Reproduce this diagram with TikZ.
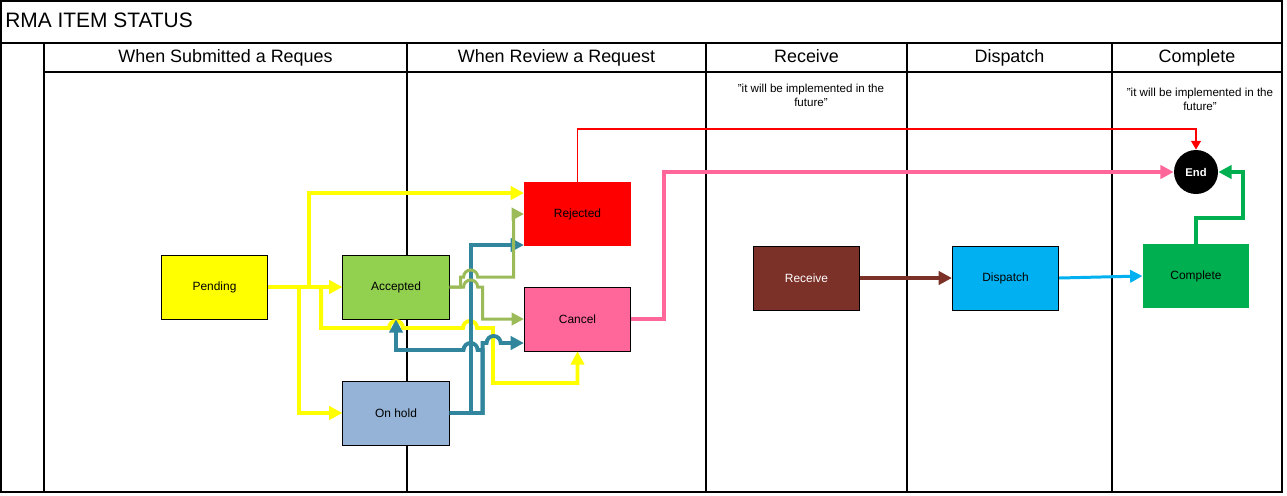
\documentclass[tikz,border=0pt]{standalone}
\usepackage{fontspec}
\setmainfont{Liberation Sans}
\usetikzlibrary{arrows.meta,calc}
\definecolor{pendfill}{HTML}{FFFF00}
\definecolor{accfill}{HTML}{92D050}
\definecolor{holdfill}{HTML}{95B3D7}
\definecolor{rejfill}{HTML}{FF0000}
\definecolor{canfill}{HTML}{FF6699}
\definecolor{recfill}{HTML}{7B3028}
\definecolor{disfill}{HTML}{00B0F0}
\definecolor{comfill}{HTML}{00B050}
\definecolor{tealline}{HTML}{31859C}
\definecolor{oliveline}{HTML}{9BBB59}
\newcommand\qt{\symbol{34}}

\begin{document}
\begin{tikzpicture}[x=0.02cm,y=-0.02cm,
    grid/.style={line width=0.6pt},
    head/.style={anchor=base,font=\fontsize{10.2}{12}\selectfont},
    note/.style={align=center,font=\fontsize{6.6}{7.9}\selectfont},
    box/.style={minimum width=2.13cm,minimum height=1.28cm,inner sep=0pt,
      font=\fontsize{6.8}{8}\selectfont},
    conn/.style={line width=2.2pt,-{Triangle[length=7.5pt,width=7.5pt]}},
    ylw/.style={conn,color=pendfill},
    tl/.style={conn,color=tealline},
    olv/.style={conn,color=oliveline,line width=1.7pt,-{Triangle[length=7pt,width=7pt]}},
    pnk/.style={conn,color=canfill},
    brn/.style={conn,color=recfill},
    blu/.style={conn,color=disfill,line width=1.7pt,-{Triangle[length=7pt,width=7pt]}},
    grn/.style={conn,color=comfill},
    rd/.style={color=rejfill,line width=1.1pt,-{Triangle[length=5pt,width=5.5pt]}}]
    \useasboundingbox (0,0) rectangle (1287,495);

    % swimlane table
    \draw[grid] (1,1) rectangle (1282,492);
    \draw[grid] (1,43) -- (1282,43);
    \draw[grid] (44,72) -- (1282,72);
    \draw[grid] (44,43) -- (44,492);
    \draw[grid] (407,43) -- (407,492);
    \draw[grid] (706,43) -- (706,492);
    \draw[grid] (907,43) -- (907,492);
    \draw[grid] (1112,43) -- (1112,492);

    \node[anchor=base west,font=\fontsize{11.9}{14}\selectfont,inner sep=0pt] (title) at (5,27) {RMA ITEM STATUS};
    \node[head] (hsubmit) at (225.5,62) {When Submitted a Reques};
    \node[head] (hreview) at (556.5,62) {When Review a Request};
    \node[head] (hreceive) at (806.5,62) {Receive};
    \node[head] (hdispatch) at (1009.5,62) {Dispatch};
    \node[head] (hcomplete) at (1197,62) {Complete};

    \node[note] (notereceive) at (811,95) {\qt it will be implemented in the\\future\qt};
    \node[note] (notecomplete) at (1200,99) {\qt it will be implemented in the\\future\qt};

    % states
    \node[box,draw,fill=pendfill] (pending) at (214.5,287) {Pending};
    \node[box,draw,fill=accfill] (accepted) at (396,287) {Accepted};
    \node[box,draw,fill=holdfill] (onhold) at (396,413) {On hold};
    \node[box,fill=rejfill] (rejected) at (577.5,214) {Rejected};
    \node[box,draw,fill=canfill] (cancel) at (577.5,319) {Cancel};
    \node[box,draw,fill=recfill,text=white] (receive) at (806.5,278) {Receive};
    \node[box,draw,fill=disfill] (dispatch) at (1005.5,278) {Dispatch};
    \node[box,fill=comfill] (complete) at (1196,276) {Complete};
    \node[circle,fill=black,text=white,minimum size=0.88cm,inner sep=0pt,
      font=\fontsize{6.4}{8}\selectfont\bfseries] (end) at (1196,172) {End};

    % transitions
    \draw[ylw] (pending.east) -- (accepted.west);
    \draw[ylw] (pending.east) -- ++(41,0) |- ($(rejected.west)+(0,-21)$);
    \draw[ylw] (pending.east) -- ++(31,0) |- (onhold.west);
    \draw[ylw] (pending.east) -- ++(53,0) -- ++(0,41) -- (389,328)
      arc[start angle=180,end angle=0,radius=4pt] -- (463,328)
      arc[start angle=180,end angle=0,radius=4pt] -- (493,328) -- (493,383) -| (cancel.south);

    \draw[tl] (onhold.east) -- ++(21,0) |- ($(rejected.west)+(0,31)$);
    \draw[tl] (onhold.east) -- ++(33,0) -- ++(0,-70) -- ++(4,0)
      arc[start angle=180,end angle=0,radius=4pt] -- ($(cancel.west)+(0,24)$);
    \draw[tl] (onhold.east) -- ++(33,0) -- ++(0,-63) -- ++(-5,0)
      arc[start angle=0,end angle=180,radius=4pt] -| (accepted.south);

    \draw[olv] (accepted.east) -- ++(11,0) -- ++(0,-10) -- ++(3,0)
      arc[start angle=180,end angle=0,radius=4pt] -- ++(36,0) |- (rejected.west);
    \draw[olv] (accepted.east) -- ++(14,0)
      arc[start angle=180,end angle=0,radius=4pt] -- ++(5,0) |- (cancel.west);

    \draw[rd] (rejected.north) -- ++(0,-53) -| (end.north);
    \draw[pnk] (cancel.east) -- ++(33,0) |- (end.west);
    \draw[brn] (receive.east) -- (dispatch.west);
    \draw[blu] (dispatch.east) -- (complete.west);
    \draw[grn] (complete.north) -- ++(0,-26) -- ++(47,0) |- (end.east);
\end{tikzpicture}
\end{document}
